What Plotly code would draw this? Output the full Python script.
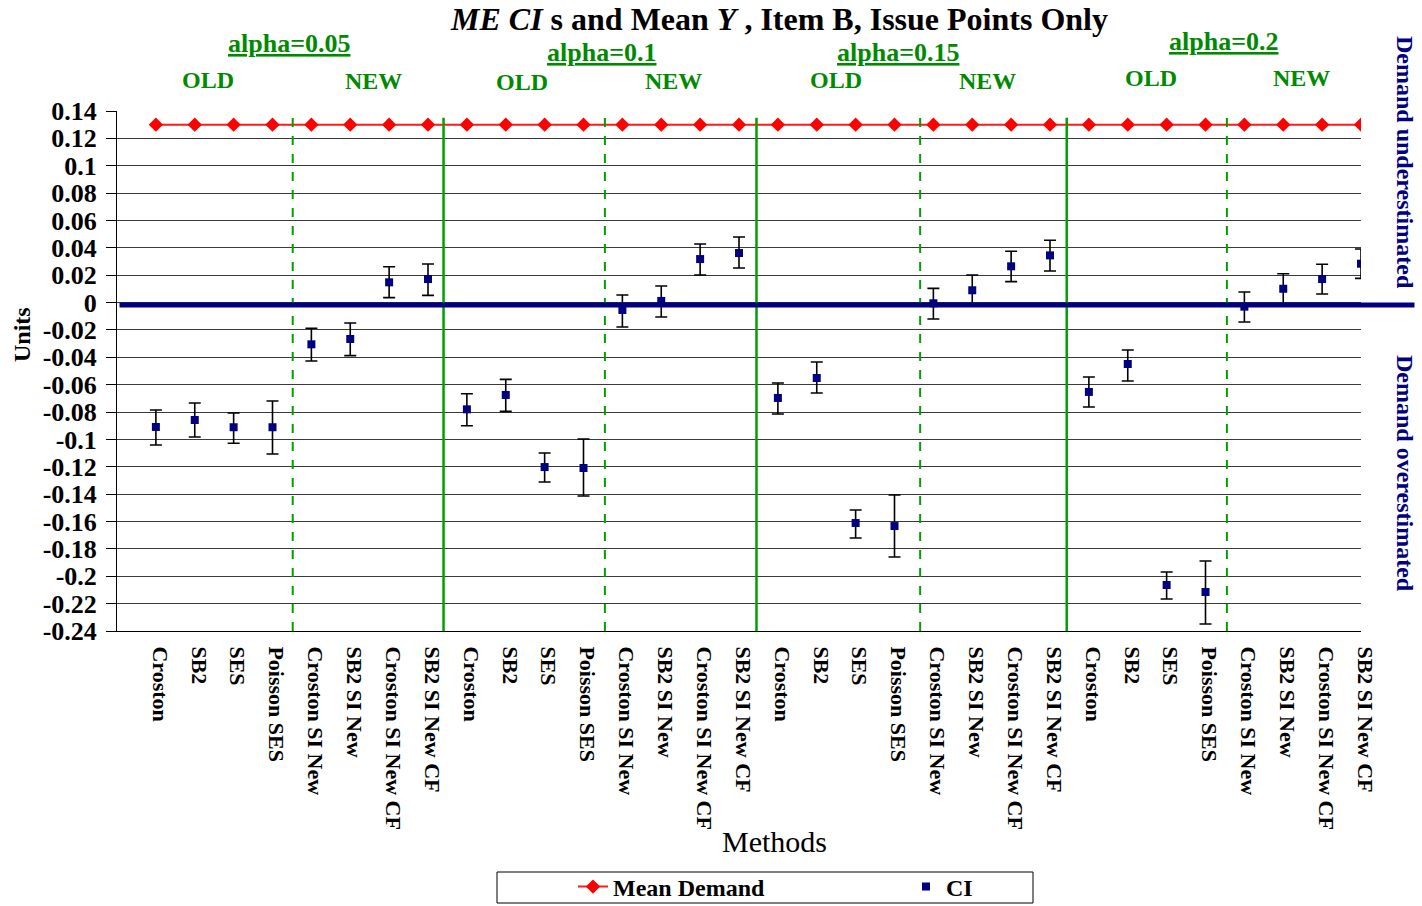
import plotly.graph_objects as go

methods = ["Croston", "SB2", "SES", "Poisson SES", "Croston SI New", "SB2 SI New",
           "Croston SI New CF", "SB2 SI New CF"]
alphas = ["alpha=0.05", "alpha=0.1", "alpha=0.15", "alpha=0.2"]
categories = methods * 4

mean_demand = [0.13] * 32

ci_mid = [-0.0909, -0.0858, -0.0911, -0.0911, -0.0305, -0.0266, 0.0148, 0.0172,
          -0.0780, -0.0675, -0.1202, -0.1209, -0.0054, 0.0012, 0.0318, 0.0362,
          -0.0697, -0.0551, -0.1611, -0.1633, -0.0005, 0.0090, 0.0265, 0.0345,
          -0.0653, -0.0449, -0.2064, -0.2115, -0.0030, 0.0101, 0.0172, 0.0284]
ci_upper = [-0.0785, -0.0734, -0.0807, -0.0719, -0.0188, -0.0149, 0.0262, 0.0282,
            -0.0666, -0.0561, -0.1099, -0.0997, 0.0055, 0.0121, 0.0428, 0.0479,
            -0.0588, -0.0434, -0.1516, -0.1406, 0.0104, 0.0202, 0.0375, 0.0455,
            -0.0544, -0.0347, -0.1969, -0.1889, 0.0077, 0.0211, 0.0280, 0.0392]
ci_lower = [-0.1041, -0.0982, -0.1028, -0.1107, -0.0427, -0.0388, 0.0036, 0.0053,
            -0.0900, -0.0795, -0.1311, -0.1413, -0.0178, -0.0105, 0.0202, 0.0253,
            -0.0814, -0.0661, -0.1720, -0.1859, -0.0120, -0.0020, 0.0153, 0.0231,
            -0.0763, -0.0573, -0.2166, -0.2349, -0.0142, -0.0010, 0.0063, 0.0177]

dashed_sep = [3.52, 11.55, 19.66, 27.55]
solid_sep = [7.4, 15.45, 23.43]
zero_ref = -0.0018

y_ticks = [0.14, 0.12, 0.1, 0.08, 0.06, 0.04, 0.02, 0, -0.02, -0.04, -0.06, -0.08, -0.1,
           -0.12, -0.14, -0.16, -0.18, -0.2, -0.22, -0.24]
y_ticktext = ["0.14", "0.12", "0.1", "0.08", "0.06", "0.04", "0.02", "0", "-0.02", "-0.04",
              "-0.06", "-0.08", "-0.1", "-0.12", "-0.14", "-0.16", "-0.18", "-0.2", "-0.22", "-0.24"]

x = list(range(len(categories)))
err_plus = [u - m for u, m in zip(ci_upper, ci_mid)]
err_minus = [m - l for m, l in zip(ci_mid, ci_lower)]

SERIF = "Liberation Serif"
GREEN = "#008a00"
NAVY = "#000080"

fig = go.Figure()
fig.add_trace(go.Scatter(
    x=x, y=mean_demand, mode="lines+markers", name="<b>Mean Demand</b>",
    line=dict(color="#ff1a1a", width=2),
    marker=dict(symbol="diamond", size=11, color="#ff0000"),
))
fig.add_trace(go.Scatter(
    x=x, y=ci_mid, mode="markers", name="<b>CI</b>",
    marker=dict(symbol="square", size=8, color=NAVY),
    error_y=dict(type="data", symmetric=False, array=err_plus, arrayminus=err_minus,
                 color="black", thickness=1.6, width=6),
))

W_PLOT = 1244.0
H_PLOT = 520.0
def px(xp):
    return (xp - 117) / W_PLOT
def py(yp):
    return (631 - yp) / H_PLOT

shapes = []
for s in dashed_sep:
    shapes.append(dict(type="line", xref="x", yref="y", x0=s, x1=s, y0=-0.24, y1=0.135,
                       line=dict(color="#00a000", width=2, dash="dash"), layer="above"))
for s in solid_sep:
    shapes.append(dict(type="line", xref="x", yref="y", x0=s, x1=s, y0=-0.24, y1=0.135,
                       line=dict(color="#00a000", width=2.5), layer="above"))
shapes.append(dict(type="line", xref="paper", yref="y", x0=0.002, x1=1.043, y0=zero_ref, y1=zero_ref,
                   line=dict(color=NAVY, width=5), layer="above"))
# legend frame
shapes.append(dict(type="rect", xref="paper", yref="paper", x0=px(497), x1=px(1033), y0=py(903), y1=py(872),
                   line=dict(color="black", width=1), fillcolor="rgba(0,0,0,0)"))

annotations = []
annotations.append(dict(
    text="<b><i>ME CI</i> s and Mean <i>Y</i> , Item B, Issue Points Only</b>",
    x=px(779), y=py(19.5), xref="paper", yref="paper", showarrow=False, borderpad=0,
    xanchor="center", yanchor="middle", font=dict(family=SERIF, size=32, color="black")))

alpha_pos = [(289, 43), (601, 53), (898, 53), (1223, 41)]
for a, (ax, ay) in zip(alphas, alpha_pos):
    annotations.append(dict(text="<b><u>" + a + "</u></b>", x=px(ax), y=py(ay), xref="paper", yref="paper",
                            showarrow=False, xanchor="center", yanchor="middle", borderpad=0,
                            font=dict(family=SERIF, size=26, color=GREEN)))

group_labels = ["OLD", "NEW", "OLD", "NEW", "OLD", "NEW", "OLD", "NEW"]
group_pos = [(208, 80), (373, 81), (522, 82), (673, 81), (836, 80), (987, 81), (1151, 78), (1301, 78)]
for g, (gx, gy) in zip(group_labels, group_pos):
    annotations.append(dict(text="<b>" + g + "</b>", x=px(gx), y=py(gy), xref="paper", yref="paper",
                            showarrow=False, xanchor="center", yanchor="middle",
                            font=dict(family=SERIF, size=24, color=GREEN)))

annotations.append(dict(text="<b>Units</b>", x=px(22), y=py(335), xref="paper", yref="paper",
                        showarrow=False, textangle=-90, xanchor="center", yanchor="middle",
                        font=dict(family=SERIF, size=24, color="black")))
annotations.append(dict(text="Methods", x=px(774), y=py(841), xref="paper", yref="paper",
                        showarrow=False, xanchor="center", yanchor="middle",
                        font=dict(family=SERIF, size=30, color="black")))
annotations.append(dict(text="<b>Demand underestimated</b>", x=px(1405), y=py(162), xref="paper", yref="paper",
                        showarrow=False, textangle=90, xanchor="center", yanchor="middle",
                        font=dict(family=SERIF, size=24, color=NAVY)))
annotations.append(dict(text="<b>Demand overestimated</b>", x=px(1405), y=py(473), xref="paper", yref="paper",
                        showarrow=False, textangle=90, xanchor="center", yanchor="middle",
                        font=dict(family=SERIF, size=24, color=NAVY)))

fig.update_layout(
    width=1422, height=906,
    margin=dict(l=117, r=61, t=111, b=275, autoexpand=False),
    paper_bgcolor="white", plot_bgcolor="white",
    showlegend=True,
    legend=dict(orientation="h", x=px(573), y=py(887), xref="paper", yref="paper",
                xanchor="left", yanchor="middle", borderwidth=0,
                entrywidth=288, font=dict(family=SERIF, size=24, color="black"),
                bgcolor="rgba(0,0,0,0)"),
    shapes=shapes, annotations=annotations,
    font=dict(family=SERIF),
)
fig.update_xaxes(
    range=[-1, 31], tickmode="array", tickvals=x, ticktext=["<b>" + c + "</b>" for c in categories],
    tickangle=90, ticks="", showgrid=False, zeroline=False,
    showline=True, linecolor="black", linewidth=1,
    tickfont=dict(family=SERIF, size=22, color="black"), ticklabelstandoff=10, ticklabelshift=4,
)
fig.update_yaxes(
    range=[-0.24, 0.14], tickmode="array", tickvals=y_ticks, ticktext=["<b>" + t + "</b>" for t in y_ticktext],
    ticks="outside", ticklen=10, tickcolor="black", showgrid=True, gridcolor="#3a3a3a", gridwidth=1,
    zeroline=False, showline=True, linecolor="black", linewidth=1,
    tickfont=dict(family=SERIF, size=26, color="black"), ticklabelstandoff=4,
)

fig.write_html("out.html")
